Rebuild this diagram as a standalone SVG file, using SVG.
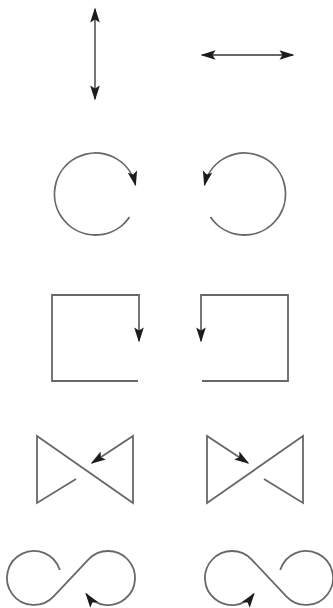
<svg xmlns="http://www.w3.org/2000/svg" width="333" height="608" viewBox="0 0 333 608">
  <defs>
    <style>
      .ln { fill: none; stroke: #686868; stroke-width: 1.8; stroke-linejoin: miter; }
      .ah { fill: #1c1c1c; stroke: none; }
    </style>
    <marker id="head" markerUnits="userSpaceOnUse" viewBox="-16 -6 18 12" refX="0" refY="0" markerWidth="18" markerHeight="12" orient="auto-start-reverse" overflow="visible">
      <path class="ah" d="M1.5,0 L-13.5,-4.8 L-10.5,0 L-13.5,4.8 Z"/>
    </marker>
  </defs>
  <rect width="333" height="608" fill="#ffffff"/>

  <!-- row 1: two-way arrows -->
  <g id="updown">
    <path class="ln" d="M95,9 V99" marker-start="url(#head)" marker-end="url(#head)"/>
  </g>
  <g id="leftright">
    <path class="ln" d="M202,55 H293" marker-start="url(#head)" marker-end="url(#head)"/>
  </g>

  <!-- row 2: circular arrows -->
  <g id="circle-cw">
    <path class="ln" d="M129.5,216.9 A41,41 0 1 1 135.45,184.8" marker-end="url(#head)"/>
  </g>
  <g id="circle-ccw">
    <path class="ln" d="M210.5,216.9 A41,41 0 1 0 204.55,184.8" marker-end="url(#head)"/>
  </g>

  <!-- row 3: square loops -->
  <g id="square-cw">
    <path class="ln" d="M138,381 H52 V295 H139 V341" marker-end="url(#head)"/>
  </g>
  <g id="square-ccw">
    <path class="ln" d="M202,381 H288 V295 H201 V341" marker-end="url(#head)"/>
  </g>

  <!-- row 4: bow ties -->
  <g id="bowtie-left">
    <path class="ln" d="M76,479 L37,503 V436 L133,503 V436 L92,463" marker-end="url(#head)"/>
  </g>
  <g id="bowtie-right">
    <path class="ln" d="M264,479 L303,503 V436 L207,503 V436 L248,463" marker-end="url(#head)"/>
  </g>

  <!-- row 5: figure eights -->
  <g id="eight-left">
    <path class="ln" d="M59.8,570.1 A27,27 0 1 0 53.7,596.4 L88.3,559.6 A27,27 0 1 1 86.2,593.9" marker-end="url(#head)"/>
  </g>
  <g id="eight-right">
    <path class="ln" d="M280.2,570.1 A27,27 0 1 1 286.3,596.4 L251.7,559.6 A27,27 0 1 0 253.8,593.9" marker-end="url(#head)"/>
  </g>
</svg>
